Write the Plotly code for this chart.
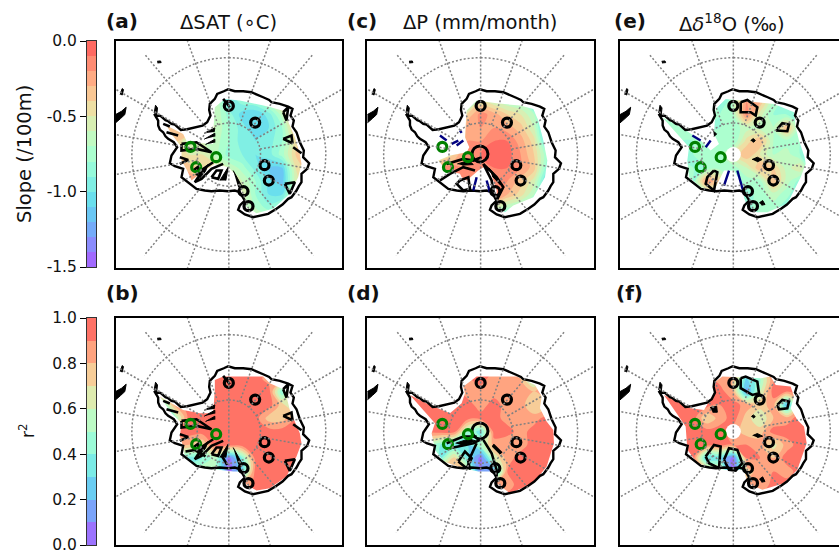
import numpy as np
import plotly.graph_objects as go

W, H = 839, 552
FONT = "DejaVu Sans"

# map coordinates: south-polar stereographic, 3 units = 1 screen px, pole at 0,0
grid_x = [-240, -200, -160, -120, -80, -40, 0, 40, 80, 120, 160, 200, 240]
grid_y = [200, 160, 120, 80, 40, 0, -40, -80, -120, -160, -200]

sat_slope = [
 [-.4,-.4,-.4,-.5,-.6,-.7,-.9,-.7,-.5,-.3,-.2,-.1,-.1],
 [-.4,-.4,-.4,-.5,-.6,-.6,-1.0,-.85,-.8,-.6,-.2,-.1,-.1],
 [-.4,-.4,-.4,-.5,-.6,-.6,-.85,-1.05,-1.1,-.95,-.65,-.1,-.1],
 [-.4,-.4,-.3,-.2,-.5,-.6,-.8,-.95,-1.1,-1.0,-.8,-.3,-.1],
 [-.4,-.4,-.4,-.6,-.6,-.65,-.8,-.95,-1.0,-.95,-.8,-.45,-.2],
 [-.4,-.4,-.4,-.5,-.5,-.65,-.85,-.9,-1.0,-.95,-.75,-.4,-.2],
 [-.3,-.3,-.3,-.35,-.4,-.45,-.6,-.75,-.95,-1.1,-1.1,-.5,-.3],
 [-.3,-.3,-.2,-.2,-.3,-.3,-.4,-.6,-.8,-1.05,-1.15,-.55,-.3],
 [-.3,-.3,-.3,-.3,-.3,-.3,-.4,-.5,-.8,-1.0,-1.0,-.5,-.3],
 [-.3,-.3,-.3,-.3,-.3,-.4,-.5,-.6,-.7,-.85,-.7,-.4,-.3],
 [-.5,-.5,-.5,-.5,-.5,-.5,-.5,-.5,-.5,-.5,-.5,-.5,-.5],
]
sat_r2 = [
 [.95]*13,
 [.95,.95,.95,.95,.95,.95,.95,.95,.95,.85,.95,.95,.95],
 [.95,.95,.95,.95,.95,.95,.95,.95,.95,.95,.4,.95,.95],
 [.95,.4,.85,.95,.95,.95,.95,.95,.95,.95,.75,.5,.95],
 [.95,.4,.5,.95,.95,.95,.95,.95,.95,.75,.75,.9,.95],
 [.95,.95,.95,.95,.95,.95,.95,.95,.95,.95,.95,.95,.95],
 [.95,.95,.85,.8,.7,.95,.95,.95,.95,.95,.95,.95,.95],
 [.95,.95,.5,.35,.4,.55,.05,.4,.95,.95,.95,.95,.95],
 [.6,.6,.6,.5,.6,.6,.05,.3,.95,.95,.95,.95,.95],
 [.6,.6,.6,.6,.6,.6,.6,.8,.95,.95,.95,.95,.95],
 [.95]*13,
]
p_slope = [
 [-1.2]*13,
 [-1.2,-1.2,-1.2,-1.2,-1.2,-1.0,-.5,-.6,-.7,-.75,-1.2,-1.2,-1.2],
 [-1.2,-1.2,-1.2,-1.2,-1.2,-.4,-.15,-.25,-.4,-.5,-.7,-1.2,-1.2],
 [-1.2,-1.2,-1.2,-1.2,-1.2,-.2,-.2,-.2,-.25,-.35,-.6,-1.2,-1.2],
 [-1.2,-1.2,-1.2,-1.2,-.8,-.2,-.2,-.1,-.1,-.25,-.45,-1.1,-1.2],
 [-1.2,-1.2,-1.2,-.6,-.4,-.1,-.1,-.05,-.05,-.2,-.4,-.8,-1.2],
 [-1.2,-1.2,-.8,-.2,-.15,-.2,-.1,-.1,-.1,-.2,-.35,-.9,-1.2],
 [-1.2,-1.2,-.8,-.3,-.1,-.1,-.1,-.1,-.2,-.35,-.55,-1.1,-1.2],
 [-1.2,-1.2,-1.2,-1.2,-.5,-.3,-.2,-.1,-.3,-.45,-.7,-1.2,-1.2],
 [-1.2,-1.2,-1.2,-1.2,-1.2,-1.2,-1.0,-.6,-.7,-.8,-1.2,-1.2,-1.2],
 [-1.2]*13,
]
p_r2 = [
 [.95]*13,
 [.95,.95,.95,.95,.95,.9,.95,.85,.85,.8,.5,.95,.95],
 [.95,.95,.95,.95,.95,.85,.85,.85,.85,.9,.8,.95,.95],
 [.95,.95,.95,.95,.95,.95,.85,.95,.85,.85,.7,.75,.95],
 [.95,.95,.95,.95,.95,.95,.95,.95,.85,.9,.85,.95,.95],
 [.95,.95,.95,.95,.95,.5,.35,.95,.95,.85,.95,.95,.95],
 [.95,.95,.6,.4,.3,.3,.5,.85,.8,.85,.95,.95,.95],
 [.9,.9,.5,.4,.75,.35,.05,.6,.85,.95,.95,.95,.95],
 [.8,.8,.8,.8,.8,.7,.1,.2,.9,.9,.95,.95,.95],
 [.95,.95,.95,.95,.95,.95,.95,.9,.85,.95,.95,.95,.95],
 [.95]*13,
]
d18o_slope = [
 [-.9]*13,
 [-.75,-.75,-.75,-.75,-.75,-.95,-.7,-.2,-.3,-.75,-.85,-1,-1],
 [-.75,-.7,-.7,-.7,-.75,-.8,-.7,-.15,-.55,-.8,-.8,-.85,-1],
 [-.7,-.75,-.7,-.75,-.8,-.8,-.75,-.65,-.65,-.7,-.3,-.8,-1],
 [-.75,-.75,-.8,-.8,-.75,-.75,-.8,-.45,-.3,-.7,-.75,-.8,-1],
 [-.75,-.75,-.85,-.8,-.75,-.75,-.5,-.3,-.5,-.7,-.65,-.8,-1],
 [-.75,-.75,-.75,-.8,-.8,-.75,-.75,-.6,-.3,-.4,-.65,-.5,-1],
 [-.75,-.75,-.75,-.8,-.2,-.4,-.9,-.75,-.75,-.3,-.65,-.85,-1],
 [-.75,-.75,-.75,-.75,-.75,-.5,-.9,-.85,-.75,-.65,-.75,-.95,-1],
 [-.75,-.75,-.75,-.75,-.75,-.75,-.85,-.85,-.75,-.75,-.9,-1,-1],
 [-.9]*13,
]
d18o_r2 = [
 [.95]*13,
 [.95,.95,.95,.95,.95,.85,.8,.3,.5,.9,.95,.95,.95],
 [.95,.95,.95,.95,.95,.95,.8,.15,.6,.95,.9,.95,.95],
 [.95,.95,.95,.95,.95,.9,.95,.85,.75,.85,.2,.8,.95],
 [.95,.95,.95,.95,.7,.85,.95,.75,.6,.8,.85,.95,.95],
 [.95,.95,.95,.95,.95,.95,.85,.75,.75,.95,.95,.95,.95],
 [.95,.95,.95,.95,.95,.95,.9,.9,.85,.65,.85,.95,.95],
 [.95,.95,.95,.95,.25,.3,.05,.9,.9,.8,.95,.9,.95],
 [.95,.95,.95,.95,.9,.7,.05,.75,.85,.9,.85,.95,.95],
 [.95,.95,.95,.95,.95,.95,.95,.85,.8,.95,.95,.95,.95],
 [.95]*13,
]

coast = [(-224,122),(-215,117),(-205,116),(-197,108),(-190,103),(-182,100),(-172,92),(-162,90),(-150,80),(-144,74),(-125,76),(-102,82),(-79,87),(-65,97),(-55,117),
 (-59,134),(-57,152),(-42,167),(-35,182),(-15,190),(-2,196),(18,190),(43,190),(68,187),(88,177),(103,172),(121,164),(128,157),(153,152),
 (178,144),(191,137),(185,117),(195,102),(191,84),(203,67),(208,50),(213,37),(225,12),(223,-8),(241,-26),(235,-43),(218,-58),(218,-83),(210,-95),(203,-108),
 (188,-128),(178,-133),(161,-150),(143,-163),(118,-178),(93,-183),(73,-188),(48,-180),(28,-166),(33,-153),(48,-138),(33,-113),(18,-108),(-2,-110),
 (-27,-108),(-52,-110),(-72,-108),(-97,-103),(-122,-83),(-142,-68),(-137,-43),(-162,-35),(-177,-26),(-172,-3),(-155,22),(-165,37),
 (-182,47),(-190,55),(-197,67),(-207,75),(-212,87),(-212,102),(-224,122)]
islands = [
 [(-215,280),(-205,281),(-203,276),(-214,275)],
 [(-326,180),(-320,198),(-316,195),(-320,178)],
 [(-340,120),(-322,130),(-308,142),(-312,120),(-325,108),(-340,95)],
 [(-224,125),(-220,148),(-214,140),(-216,122)],
]

mask_a = [(-42,142),(-32,152),(-12,167),(33,162),(83,152),(118,144),(168,130),(181,92),(198,52),(213,2),(218,-28),(208,-68),(183,-118),(133,-163),(83,-176),(53,-158),(38,-108),(18,-58),(-2,-38),(-42,-28),(-87,-58),(-112,-78),(-125,-48),(-142,-18),(-142,22),(-172,62),(-187,87),(-137,62),(-125,37),(-47,32),(-47,62)]
mask_b = [(-42,155),(-17,165),(103,165),(123,145),(168,125),(183,65),(213,-5),(218,-35),(203,-75),(173,-135),(123,-170),(83,-177),(53,-160),(38,-120),(13,-120),(-17,-115),(-67,-110),(-107,-100),(-132,-75),(-137,-45),(-147,-15),(-142,25),(-172,55),(-207,105),(-137,65),(-87,55),(-47,55),(-42,125)]
mask_c = [(-42,132),(-12,162),(48,154),(118,147),(158,137),(173,102),(188,42),(200,-18),(193,-68),(158,-128),(98,-153),(73,-173),(48,-158),(48,-108),(28,-48),(8,-38),(-7,-48),(-42,-78),(-57,-68),(-62,-58),(-102,-48),(-127,-18),(-92,-3),(-42,7),(-34,22),(-47,52)]
mask_d = [(-52,135),(-12,165),(108,165),(163,140),(183,105),(178,70),(198,30),(218,5),(220,-35),(198,-105),(158,-155),(88,-185),(48,-155),(38,-120),(-7,-120),(-52,-110),(-112,-90),(-137,-55),(-147,-5),(-137,25),(-177,70),(-212,110),(-152,80),(-92,55),(-57,85),(-47,115)]
mask_e = [(-53,137),(-23,167),(72,157),(122,152),(182,127),(187,82),(197,42),(214,-8),(217,-28),(202,-68),(162,-148),(102,-173),(72,-173),(42,-158),(32,-128),(32,-98),(2,-48),(-28,-48),(-58,-108),(-98,-98),(-133,-68),(-138,-18),(-133,22),(-173,67),(-213,112),(-148,77),(-98,42),(-68,12),(-43,32),(-58,62)]
mask_f = [(-58,115),(-53,150),(-33,165),(82,160),(112,165),(127,140),(172,135),(182,105),(172,70),(192,35),(212,15),(220,-35),(192,-115),(152,-155),(87,-175),(42,-155),(32,-115),(-8,-117),(-58,-110),(-108,-95),(-138,-55),(-143,15),(-208,110),(-128,70),(-88,65)]

west_lines = [
 [(-142,32),(-97,37),(-52,7),(-97,17),(-142,12),(-142,32)],
 [(-47,-23),(-77,-43),(-92,-68),(-102,-83),(-82,-73),(-52,-43),(-17,-28)],
 [(-52,-68),(-37,-48),(-22,-48),(-32,-73),(-52,-68)],
 [(-147,-8),(-122,-16),(-147,-28)],
 [(-107,-48),(-87,-33),(-97,-63)],
 [(-187,67),(-152,57)], [(-197,92),(-177,84)],
 [(-17,167),(3,142)],
]
east_lines = [
 [(163,127),(178,142),(173,102),(163,127)],
 [(163,47),(188,57),(191,34),(163,47)],
 [(193,22),(218,4)],
 [(168,-88),(198,-83),(183,-118),(168,-88)],
]
wedges = [
 [(-74,64),(-42,80),(-44,68)],
 [(-74,46),(-42,64),(-42,54)],
 [(-70,30),(-42,46),(-42,36)],
 [(-27,-78),(-2,-38),(-9,-78)],
 [(13,-48),(38,-93),(28,-98)],
 [(-92,-55),(-62,-30),(-70,-50),(-88,-72)],
]
sig_a = west_lines + east_lines
sig_b = west_lines + east_lines + [[(-130,-60),(-100,-55),(-70,-75)],[(-20,-75),(-5,-100)]]
sig_c = [
 [(-102,-28),(-52,-13),(-22,-18),(3,-8)],
 [(-17,-48),(-52,-38),(-92,-58),(-122,-78)],
 [(-62,-78),(-37,-68),(-32,-103),(-52,-108),(-72,-88),(-62,-78)],
 [(8,-28),(48,-68),(68,-98),(48,-138),(38,-108),(33,-78),(8,-28)],
]
sig_d = [
 [(-102,-35),(-52,-15),(-12,-15)],
 [(-92,-50),(-22,-35),(8,-20)],
 [(-67,-90),(-47,-60),(-27,-80),(-42,-110),(-67,-90)],
 [(-12,-35),(-37,-90),(-32,-115)],
 [(8,-25),(33,-65),(48,-115),(48,-135)],
 [(38,-40),(63,-65)],
]
sig_e = [
 [(22,157),(42,164),(72,142),(67,117),(52,127),(22,127),(22,157)],
 [(132,77),(147,94),(167,90),(162,70),(132,72),(132,77)],
 [(-58,-48),(-78,-68),(-83,-88),(-58,-108),(-48,-53),(-58,-48)],
]
sig_f = [
 [(22,160),(37,165),(72,150),(77,115),(57,110),(22,130),(22,160)],
 [(132,80),(147,95),(167,90),(162,70),(137,67),(132,80)],
 [(-83,-75),(-58,-40),(-38,-45),(-43,-110),(-73,-95),(-83,-75)],
 [(-28,-85),(-13,-50),(12,-55),(27,-95),(7,-117),(-13,-115),(-28,-85)],
]
navy_c = [[(-122,57),(-102,42)],[(-62,72),(-57,65)],[(-87,32),(-67,42)],[(-72,27),(-52,42)],[(-22,-108),(-12,-68)],[(18,-78),(28,-113)]]
navy_e = [[(-123,57),(-98,42)],[(-83,22),(-68,42)],[(-28,-93),(-13,-48)],[(12,-48),(32,-118)]]

blobs_c = [[(-70,-28),(-35,-18),(-22,-30),(-55,-32)],[(25,-40),(50,-70),(58,-90),(35,-65)]]
blobs_d = [[(-75,-35),(-35,-22),(-15,-28),(-55,-42)],[(38,-38),(62,-62),(58,-68),(34,-44)]]
blobs_e = [[(52,42),(60,48),(66,42),(60,36)],[(56,-15),(72,-8),(86,-15),(72,-22)],[(78,-145),(88,-138),(95,-150),(85,-152)],[(-60,70),(-50,62),(-58,54)]]
blobs_f = [[(54,45),(60,50),(66,45),(60,40)],[(58,-12),(72,-6),(88,-14),(72,-18)],[(78,-143),(88,-136),(95,-150),(85,-152)],[(-70,72),(-50,76),(-48,58),(-62,58)]]

sites_x = [0, 79, 107, 120, 44, 59]
sites_y = [146, 96, -32, -78, -110, -155]
green_x = [-115, -38, -98]
green_y = [23, -8, -38]

parallels = [-60, -80]
meridians = [20, 40, 60, 80, 100, 120, 140, 160, 200, 220, 240, 260, 280, 300, 320, 340]
full_meridians = [0, 180]

slope_levels = [-1.5, 0.0, 0.1]
r2_levels = [0.0, 1.0, 0.1]
slope_ticks = [0, -0.5, -1.0, -1.5]
slope_ticktext = ["0.0", "-0.5", "-1.0", "-1.5"]
r2_ticks = [0, .2, .4, .6, .8, 1.0]
r2_ticktext = ["0.0", "0.2", "0.4", "0.6", "0.8", "1.0"]

palette = ["#ac59ff","#8b8cfd","#6abbf7","#6adfed","#8bf7df","#acffcf","#cdf7bb","#eedfa4","#ffbb8c","#ff8c73","#ff5959"]
cscale = [[i / 10, c] for i, c in enumerate(palette)]

def radius(lat):
    return 291 * np.tan(np.radians(90 + np.asarray(lat, float)) / 2) / np.tan(np.radians(15))

def xs(paths):
    out = []
    for p in paths:
        out += [q[0] for q in p] + [None]
    return out

def ys(paths):
    out = []
    for p in paths:
        out += [q[1] for q in p] + [None]
    return out

def keyhole(poly):
    a = 0
    for (x0, y0), (x1, y1) in zip(poly, poly[1:] + poly[:1]):
        a += x0 * y1 - x1 * y0
    inner = list(poly) if a > 0 else list(poly)[::-1]  # counter-clockwise hole
    outer = [(-500, -500), (-500, 500), (500, 500), (500, -500), (-500, -500)]  # clockwise
    path = outer + [inner[0]] + inner[1:] + [inner[0], (-500, -500)]
    return [p[0] for p in path], [p[1] for p in path]

panels = [
 dict(id="a", z=sat_slope, lv=slope_levels, mask=mask_a, sig=sig_a, navy=[], blobs=wedges, hole=False, ring=False, box=(115.5, 41.3)),
 dict(id="b", z=sat_r2, lv=r2_levels, mask=mask_b, sig=sig_b, navy=[], blobs=wedges, hole=False, ring=False, box=(115.5, 318.3)),
 dict(id="c", z=p_slope, lv=slope_levels, mask=mask_c, sig=sig_c, navy=navy_c, blobs=blobs_c, hole=False, ring=True, box=(367.3, 41.3)),
 dict(id="d", z=p_r2, lv=r2_levels, mask=mask_d, sig=sig_d, navy=[], blobs=blobs_d, hole=False, ring=True, box=(367.3, 318.3)),
 dict(id="e", z=d18o_slope, lv=slope_levels, mask=mask_e, sig=sig_e, navy=navy_e, blobs=blobs_e, hole=True, ring=False, box=(620, 41.3)),
 dict(id="f", z=d18o_r2, lv=r2_levels, mask=mask_f, sig=sig_f, navy=[], blobs=blobs_f, hole=True, ring=False, box=(620, 318.3)),
]

fig = go.Figure()
layout = {}
SIZE = 226.5

for i, p in enumerate(panels):
    n = i + 1
    xa, ya = f"x{n}", f"y{n}"
    left, top = p["box"]
    right = min(left + SIZE, W)
    xmax = -340 + (right - left) * 3
    clipped = right < left + SIZE
    layout[f"xaxis{n}"] = dict(domain=[left / W, right / W], range=[-340, xmax], showticklabels=False, ticks="", automargin=False,
        showgrid=False, zeroline=False, showline=True, mirror=True, linecolor="black", linewidth=2, anchor=ya)
    layout[f"yaxis{n}"] = dict(domain=[1 - (top + SIZE) / H, 1 - top / H], range=[-340, 340], showticklabels=False, ticks="", automargin=False,
        showgrid=False, zeroline=False, showline=True, mirror=not clipped, linecolor="black", linewidth=2, anchor=xa)
    c = dict(xaxis=xa, yaxis=ya, showlegend=False, hoverinfo="skip")
    lo, hi, st = p["lv"]
    fig.add_trace(go.Contour(x=grid_x, y=grid_y, z=p["z"], colorscale=cscale, zmin=lo, zmax=hi, showscale=False,
        contours=dict(coloring="fill", start=lo, end=hi, size=st, showlines=False), line=dict(width=0), **c))
    mx, my = keyhole(p["mask"])
    fig.add_trace(go.Scatter(x=mx, y=my, mode="lines", fill="toself", fillcolor="white", line=dict(width=0, color="white"), **c))
    if p["hole"]:
        fig.add_trace(go.Scatter(x=[0], y=[0], mode="markers", marker=dict(symbol="circle", size=15, color="white"), **c))
    fig.add_trace(go.Scatter(x=xs(islands), y=ys(islands), mode="lines", fill="toself", fillcolor="black",
        line=dict(color="black", width=1), **c))
    fig.add_trace(go.Scatter(x=[q[0] for q in coast], y=[q[1] for q in coast], mode="lines",
        line=dict(color="black", width=2.4), **c))
    fig.add_trace(go.Scatter(x=xs(p["sig"]), y=ys(p["sig"]), mode="lines", line=dict(color="black", width=2.6), **c))
    if p["navy"]:
        fig.add_trace(go.Scatter(x=xs(p["navy"]), y=ys(p["navy"]), mode="lines", line=dict(color="#000080", width=2.4), **c))
    if p["blobs"]:
        fig.add_trace(go.Scatter(x=xs(p["blobs"]), y=ys(p["blobs"]), mode="lines", fill="toself", fillcolor="black",
            line=dict(color="black", width=1), **c))
    if p["ring"]:
        fig.add_trace(go.Scatter(x=[-2], y=[2], mode="markers", marker=dict(symbol="circle-open", size=16, color="black", line=dict(width=3, color="black")), **c))
    fig.add_trace(go.Scatter(x=sites_x, y=sites_y, mode="markers", marker=dict(symbol="circle-open", size=9, color="black", line=dict(width=3.2, color="black")), **c))
    fig.add_trace(go.Scatter(x=green_x, y=green_y, mode="markers", marker=dict(symbol="circle-open", size=9, color="green", line=dict(width=3.2, color="#008000")), **c))
    # graticule
    gx, gy = [], []
    t = np.radians(np.arange(0, 361, 3))
    for lat in parallels:
        r = radius(lat)
        gx += list(r * np.sin(t)) + [None]
        gy += list(r * np.cos(t)) + [None]
    for lon in meridians:
        a = np.radians(lon)
        r0, r1 = radius(-80), radius(-50)
        gx += [r0 * np.sin(a), r1 * np.sin(a), None]
        gy += [r0 * np.cos(a), r1 * np.cos(a), None]
    for lon in full_meridians:
        a = np.radians(lon)
        r1 = radius(-50)
        gx += [0, r1 * np.sin(a), None]
        gy += [0, r1 * np.cos(a), None]
    fig.add_trace(go.Scatter(x=gx, y=gy, mode="lines", line=dict(color="#808080", width=1.5, dash="2px,2px"), **c))

# colour bars
bars = [
 dict(n=7, lv=slope_levels, top=41, bottom=267, ticks=slope_ticks, text=slope_ticktext),
 dict(n=8, lv=r2_levels, top=318, bottom=545, ticks=r2_ticks, text=r2_ticktext),
]
for b in bars:
    n = b["n"]
    lo, hi, st = b["lv"]
    mids = list(np.arange(lo + st / 2, hi, st))
    fig.add_trace(go.Heatmap(x=[0], y=mids, z=[[m] for m in mids], colorscale=cscale, zmin=lo, zmax=hi, showscale=False,
        xaxis=f"x{n}", yaxis=f"y{n}", hoverinfo="skip"))
    layout[f"xaxis{n}"] = dict(domain=[87 / W, 96 / W], range=[-.5, .5], showticklabels=False, ticks="", showgrid=False, automargin=False,
        zeroline=False, showline=True, mirror=True, linecolor="#333333", linewidth=1, anchor=f"y{n}")
    layout[f"yaxis{n}"] = dict(domain=[1 - b["bottom"] / H, 1 - b["top"] / H], range=[lo, hi], tickvals=b["ticks"], ticktext=b["text"], automargin=False,
        ticks="outside", ticklen=6, tickwidth=1.3, tickcolor="black", showgrid=False, zeroline=False, showline=True, mirror=True,
        linecolor="#333333", linewidth=1, anchor=f"x{n}", tickfont=dict(family=FONT, size=15.5, color="#111111"),
        ticklabeloverflow="allow")

def note(text, px, py, size, bold=False, angle=0, xanchor="left"):
    return dict(text=f"<b>{text}</b>" if bold else text, x=px / W, y=1 - py / H, xref="paper", yref="paper", showarrow=False,
        xanchor=xanchor, yanchor="middle", textangle=angle, font=dict(family=FONT, size=size, color="#111111"))

anns = [
 note("(a)", 104, 21, 20, True), note("(b)", 104, 293, 20, True), note("(c)", 345, 21, 20, True),
 note("(d)", 345, 293, 20, True), note("(e)", 612, 21, 20, True), note("(f)", 614, 293, 20, True),
 note("ΔSAT (∘C)", 228, 23, 19.5, xanchor="center"),
 note("ΔP (mm/month)", 480, 23, 19.5, xanchor="center"),
 note("Δ<i>δ</i><sup>18</sup>O (‰)", 732, 23, 19.5, xanchor="center"),
 note("Slope (/100m)", 24, 154, 19.5, angle=-90, xanchor="center"),
 note("r<sup>2</sup>", 27, 431, 17, angle=-90, xanchor="center"),
]

fig.update_layout(width=W, height=H, autosize=False, margin=dict(l=0, r=0, t=0, b=0), paper_bgcolor="white", plot_bgcolor="white",
    annotations=anns, showlegend=False, font=dict(family=FONT), **layout)
fig.write_html("out.html", config={"displayModeBar": False}, post_script="document.body.style.margin='0';")
